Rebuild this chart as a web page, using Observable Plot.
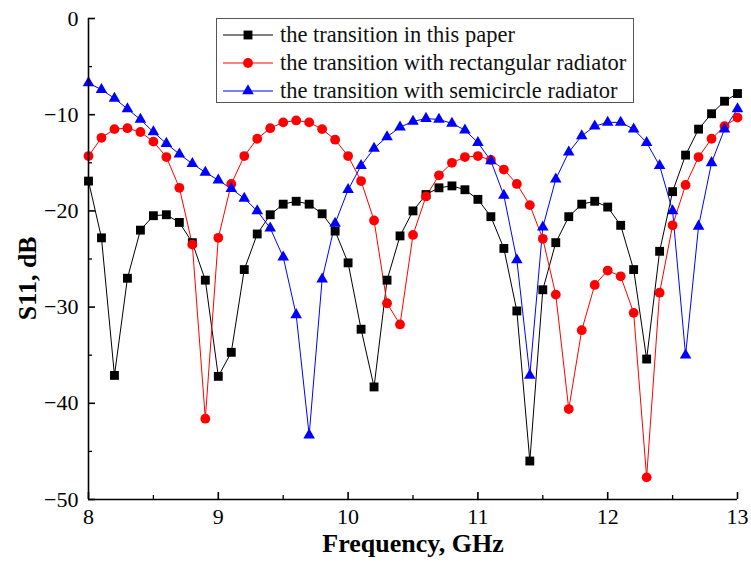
<!DOCTYPE html>
<html>
<head>
<meta charset="utf-8">
<script src="https://cdn.jsdelivr.net/npm/d3@7"></script>
<script src="https://cdn.jsdelivr.net/npm/@observablehq/plot@0.6"></script>
<style>
  html, body { margin: 0; padding: 0; background: #fff; }
  #wrap { position: relative; width: 751px; height: 566px; font-family: "Liberation Serif", "Times New Roman", serif; }
  #legend { position: absolute; left: 216px; top: 18px; width: 418px; height: 85px; border: 1px solid #555; background: #fff; box-sizing: border-box; }
  .row { position: absolute; left: 0; height: 28px; display: flex; align-items: center; font-size: 22.5px; color: #111; white-space: nowrap; }
  .row svg { margin-left: 6px; margin-right: 7px; }
</style>
</head>
<body>
<div id="wrap"></div>
<script>
const freq = [8.0,8.1,8.2,8.3,8.4,8.5,8.6,8.7,8.8,8.9,
              9.0,9.1,9.2,9.3,9.4,9.5,9.6,9.7,9.8,9.9,
              10.0,10.1,10.2,10.3,10.4,10.5,10.6,10.7,10.8,10.9,
              11.0,11.1,11.2,11.3,11.4,11.5,11.6,11.7,11.8,11.9,
              12.0,12.1,12.2,12.3,12.4,12.5,12.6,12.7,12.8,12.9,
              13.0];

const paper = [-16.9,-22.8,-37.1,-27.0,-22.0,-20.5,-20.4,-21.2,-23.3,-27.2,
               -37.2,-34.7,-26.1,-22.4,-20.4,-19.3,-19.0,-19.3,-20.3,-22.1,
               -25.4,-32.3,-38.3,-27.2,-22.6,-20.0,-18.3,-17.6,-17.4,-17.8,
               -18.8,-20.6,-23.9,-30.4,-46.0,-28.2,-23.3,-20.6,-19.3,-19.0,
               -19.6,-21.5,-26.1,-35.4,-24.2,-18.0,-14.2,-11.5,-9.9,-8.6,
               -7.8];

const rectangular = [-14.3,-12.4,-11.5,-11.4,-11.8,-12.8,-14.4,-17.6,-23.5,-41.6,
                     -22.8,-17.2,-14.3,-12.5,-11.4,-10.8,-10.6,-10.8,-11.5,-12.6,
                     -14.3,-16.9,-21.0,-29.6,-31.8,-22.5,-18.5,-16.3,-15.0,-14.4,
                     -14.3,-14.7,-15.7,-17.2,-19.4,-22.9,-28.7,-40.6,-32.4,-27.7,
                     -26.2,-26.8,-30.6,-47.7,-28.5,-21.5,-17.3,-14.4,-12.5,-11.2,
                     -10.3];

const semicircle = [-6.7,-7.4,-8.3,-9.4,-10.5,-11.8,-13.0,-14.1,-15.1,-16.0,
                    -16.8,-17.7,-18.7,-20.0,-21.8,-24.8,-30.8,-43.3,-27.1,-21.3,
                    -17.8,-15.3,-13.5,-12.3,-11.3,-10.7,-10.4,-10.5,-10.9,-11.6,
                    -12.9,-14.8,-18.4,-25.1,-37.1,-21.7,-16.7,-13.9,-12.2,-11.2,
                    -10.8,-10.8,-11.5,-12.9,-15.3,-20.0,-35.0,-21.6,-15.0,-11.5,
                    -9.4];

const seriesNames = ["the transition in this paper",
                     "the transition with rectangular radiator",
                     "the transition with semicircle radiator"];
const seriesColors = ["#000000", "#ff0000", "#0000ff"];
const seriesSymbols = ["square", "circle", "triangle"];
const seriesR = [5.0, 4.9, 4.3];

const xTicks = [8, 9, 10, 11, 12, 13];
const xMinor = [8.5, 9.5, 10.5, 11.5, 12.5];
const yTicks = [0, -10, -20, -30, -40, -50];
const yMinor = [-5, -15, -25, -35, -45];

const W = 751, H = 566, ML = 88, MR = 14, MT = 18, MB = 67;
const FW = W - ML - MR, FH = H - MT - MB;

const allSeries = [paper, rectangular, semicircle];
const rows = [];
allSeries.forEach((vals, s) => vals.forEach((v, i) => rows.push({f: freq[i], v, s})));

const marks = [];
allSeries.forEach((vals, s) => {
  const data = rows.filter(d => d.s === s);
  marks.push(Plot.line(data, {x: "f", y: "v", stroke: seriesColors[s], strokeWidth: 1}));
});
allSeries.forEach((vals, s) => {
  const data = rows.filter(d => d.s === s);
  marks.push(Plot.dot(data, {x: "f", y: "v", fill: seriesColors[s], stroke: "none", symbol: () => seriesSymbols[s], r: seriesR[s]}));
});

const fontFam = '"Liberation Serif", "Times New Roman", serif';

const chart = Plot.plot({
  width: W,
  height: H,
  marginLeft: ML,
  marginRight: MR,
  marginTop: MT,
  marginBottom: MB,
  style: {fontFamily: fontFam, fontSize: "22px", color: "#000", background: "transparent", overflow: "visible"},
  x: {domain: [8, 13]},
  y: {domain: [-50, 0]},
  marks: [
    ...marks,
    Plot.axisX(xTicks, {tickSize: 0, tickPadding: 9, fontSize: 22, label: null, tickFormat: d => String(d), fill: "#000"}),
    Plot.axisY(yTicks, {tickSize: 0, tickPadding: 10, fontSize: 22, label: null, fill: "#000", tickFormat: d => d === 0 ? "0" : "\u2212" + Math.abs(d)}),
    // inward ticks
    Plot.ruleX(xTicks, {insetTop: FH - 7, stroke: "#000", strokeWidth: 1.6}),
    Plot.ruleX(xMinor, {insetTop: FH - 4, stroke: "#000", strokeWidth: 1.3}),
    Plot.ruleY(yTicks, {insetRight: FW - 7, stroke: "#000", strokeWidth: 1.6}),
    Plot.ruleY(yMinor, {insetRight: FW - 4, stroke: "#000", strokeWidth: 1.3}),
    Plot.ruleY([-50], {stroke: "#000", strokeWidth: 1.6}),
    Plot.ruleX([8], {stroke: "#000", strokeWidth: 1.6}),
    Plot.text(["Frequency, GHz"], {frameAnchor: "bottom", dy: 52, fontSize: 26, fontWeight: "bold", fill: "#000"}),
    Plot.text(["S11, dB"], {x: () => 8, y: () => -27, dx: -61, rotate: -90, fontSize: 26, fontWeight: "bold", fill: "#000"})
  ]
});

const wrap = document.getElementById("wrap");
wrap.appendChild(chart);

// legend
const legend = document.createElement("div");
legend.id = "legend";
seriesNames.forEach((name, s) => {
  const row = document.createElement("div");
  row.className = "row";
  row.style.top = (2 + s * 28) + "px";
  const sw = d3.create("svg").attr("width", 50).attr("height", 16);
  sw.append("line").attr("x1", 0).attr("x2", 50).attr("y1", 8).attr("y2", 8).attr("stroke", seriesColors[s]).attr("stroke-width", 1);
  const sym = {square: d3.symbolSquare, circle: d3.symbolCircle, triangle: d3.symbolTriangle}[seriesSymbols[s]];
  sw.append("path").attr("transform", "translate(25,8)").attr("fill", seriesColors[s]).attr("d", d3.symbol(sym, Math.PI * seriesR[s] * seriesR[s])());
  row.appendChild(sw.node());
  const t = document.createElement("span");
  t.textContent = name;
  row.appendChild(t);
  legend.appendChild(row);
});
wrap.appendChild(legend);
</script>
</body>
</html>
